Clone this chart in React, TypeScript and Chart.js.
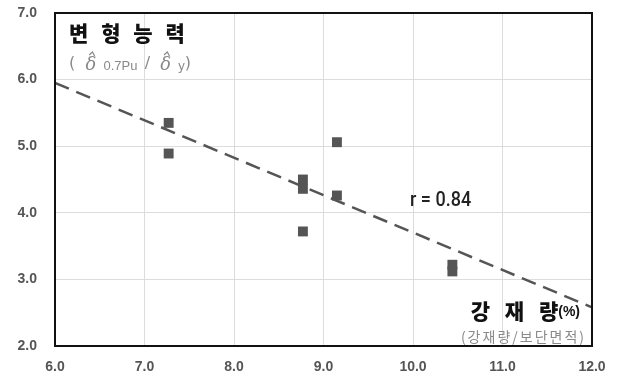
import React, { useEffect, useRef } from "react";
import { Chart, registerables } from "chart.js";

Chart.register(...registerables);

// Data
const steelRatio = [7.27, 7.27, 8.77, 8.77, 8.77, 9.15, 9.15, 10.44, 10.44];
const deformCapacity = [5.35, 4.89, 4.5, 4.36, 3.72, 5.06, 4.26, 3.22, 3.12];
const trendX = [6.0, 12.0];
const trendY = [5.95, 2.58];
const xTicks = [6, 7, 8, 9, 10, 11, 12];
const yTicks = [2, 3, 4, 5, 6, 7];
const yTitle = "변 형 능 력";
const xTitle = "강 재 량";
const xSub = "(강재량/보단면적)";
const rLabel = "r = 0.84";

const annotations = {
  id: "annotations",
  afterDraw(chart: any) {
    const { ctx, chartArea } = chart;
    const { left, top, right, bottom } = chartArea;
    ctx.save();
    // frame
    ctx.strokeStyle = "#111";
    ctx.lineWidth = 2;
    ctx.strokeRect(left, top, right - left, bottom - top);

    ctx.textBaseline = "middle";
    ctx.textAlign = "left";
    // y title
    ctx.fillStyle = "#111";
    ctx.font = "900 21px 'Noto Sans CJK KR'";
    (ctx as any).letterSpacing = "4px";
    ctx.fillText(yTitle, left + 14, top + 20);
    (ctx as any).letterSpacing = "0px";
    // y sub
    ctx.fillStyle = "#8a8a8a";
    ctx.strokeStyle = "#8a8a8a";
    let x = left + 14;
    const ySub = top + 51;
    const part = (t: string, font: string, dy = 0) => {
      ctx.font = font;
      ctx.fillText(t, x, ySub + dy);
      x += ctx.measureText(t).width;
    };
    const delta = () => {
      ctx.font = "italic 18px 'DejaVu Serif'";
      ctx.fillText("δ", x, ySub + 1);
      const w = ctx.measureText("δ").width;
      ctx.lineWidth = 1.2;
      ctx.beginPath();
      ctx.moveTo(x + w * 0.35, ySub - 9);
      ctx.lineTo(x + w * 0.65, ySub - 12);
      ctx.lineTo(x + w * 0.85, ySub - 8);
      ctx.stroke();
      x += w;
    };
    part("(  ", "16px 'DejaVu Sans'");
    delta();
    part("  0.7Pu  ", "13px 'Liberation Sans'", 2);
    part("/  ", "16px 'DejaVu Sans'");
    delta();
    part("  y", "13px 'Liberation Sans'", 2);
    part(")", "16px 'DejaVu Sans'");

    // r label
    ctx.fillStyle = "#222";
    ctx.font = "500 20px Roboto";
    ctx.save();
    ctx.translate(left + 355, top + 188);
    ctx.scale(0.9, 1);
    ctx.fillText(rLabel, 0, 0);
    ctx.restore();

    // x title
    ctx.fillStyle = "#111";
    ctx.textAlign = "right";
    ctx.font = "bold 14px 'Liberation Sans'";
    const pctW = ctx.measureText("(%)").width;
    ctx.fillText("(%)", right - 12, bottom - 34);
    ctx.font = "900 21px 'Noto Sans CJK KR'";
    (ctx as any).letterSpacing = "5px";
    ctx.fillText(xTitle, right - 12 - pctW + 5, bottom - 35);
    (ctx as any).letterSpacing = "2px";
    ctx.fillStyle = "#8a8a8a";
    ctx.font = "14px 'Noto Sans CJK KR'";
    ctx.fillText(xSub, right - 6, bottom - 9);
    ctx.restore();
  },
};

export default function App() {
  const ref = useRef<HTMLCanvasElement>(null);
  useEffect(() => {
    const chart = new Chart(ref.current!, {
      type: "scatter",
      data: {
        datasets: [
          {
            type: "line",
            data: trendX.map((v, i) => ({ x: v, y: trendY[i] })),
            borderColor: "#555",
            borderWidth: 2.5,
            borderDash: [15, 8],
            pointRadius: 0,
            fill: false,
          } as any,
          {
            data: steelRatio.map((v, i) => ({ x: v, y: deformCapacity[i] })),
            backgroundColor: "#555",
            borderColor: "#555",
            pointStyle: "rect",
            pointRadius: 7,
            borderWidth: 0,
          },
        ],
      },
      options: {
        responsive: false,
        animation: false,
        layout: { padding: { top: 13, right: 26, left: 0, bottom: 0 } },
        plugins: { legend: { display: false }, tooltip: { enabled: false } },
        scales: {
          x: {
            type: "linear",
            min: 6,
            max: 12,
            afterBuildTicks: (s: any) => {
              s.ticks = xTicks.map((v) => ({ value: v }));
            },
            afterFit: (s: any) => {
              s.height = 32;
              s.paddingLeft = 0;
              s.paddingRight = 0;
            },
            grid: { color: "#dcdcdc", drawTicks: false },
            border: { display: false },
            ticks: {
              padding: 13,
              color: "#555",
              font: { family: "'Liberation Sans'", size: 14, weight: "bold" },
              callback: (v: any) => Number(v).toFixed(1),
            },
          },
          y: {
            type: "linear",
            min: 2,
            max: 7,
            afterBuildTicks: (s: any) => {
              s.ticks = yTicks.map((v) => ({ value: v }));
            },
            afterFit: (s: any) => {
              s.width = 55;
              s.paddingTop = 0;
              s.paddingBottom = 0;
            },
            grid: { color: "#dcdcdc", drawTicks: false },
            border: { display: false },
            ticks: {
              padding: 18,
              color: "#555",
              font: { family: "'Liberation Sans'", size: 14, weight: "bold" },
              callback: (v: any) => Number(v).toFixed(1),
            },
          },
        },
      },
      plugins: [annotations],
    });
    return () => chart.destroy();
  }, []);
  return (
    <div style={{ position: "fixed", left: 0, top: 0, width: 618, height: 378, background: "#fff" }}>
      <canvas ref={ref} width={618} height={378} style={{ width: 618, height: 378 }} />
    </div>
  );
}
